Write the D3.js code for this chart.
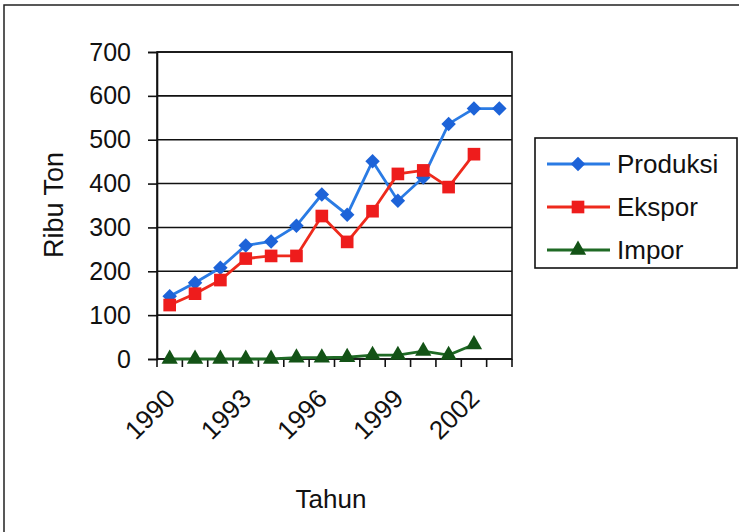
<!DOCTYPE html>
<html>
<head>
<meta charset="utf-8">
<script src="https://cdn.jsdelivr.net/npm/d3@7"></script>
<style>
  body { margin: 0; background: #fff; }
  text { font-family: "Liberation Sans", Arial, sans-serif; fill: #111; }
</style>
</head>
<body>
<div id="viz"></div>
<script>
var tahun = [1990, 1991, 1992, 1993, 1994, 1995, 1996, 1997, 1998, 1999, 2000, 2001, 2002, 2003];
var tahunLabel = [1990, 1993, 1996, 1999, 2002];
var produksi = [143, 174, 208, 259, 268, 304, 375, 329, 451, 361, 414, 536, 571, 571];
var ekspor = [123, 149, 180, 229, 235, 235, 326, 267, 337, 422, 430, 392, 467];
var impor = [0, 0, 0, 0, 0, 3, 3, 4, 9, 9, 18, 9, 33];
var yTicks = [0, 100, 200, 300, 400, 500, 600, 700];

var W = 739, H = 532;
var plot = {left: 157, right: 512, top: 52, bottom: 359};

var svg = d3.select('#viz').append("svg")
    .attr("width", W)
    .attr("height", H);

// outer chart frame
svg.append("rect")
    .attr("x", 4).attr("y", 5)
    .attr("width", W + 10).attr("height", H + 10)
    .attr("fill", "#fff")
    .attr("stroke", "#222")
    .attr("stroke-width", 1.5);

var x = d3.scaleBand()
    .domain(tahun)
    .range([plot.left, plot.right]);

var y = d3.scaleLinear()
    .domain([0, 700])
    .range([plot.bottom, plot.top]);

// gridlines
svg.append("g")
    .selectAll("line")
    .data(yTicks)
    .join("line")
    .attr("x1", plot.left)
    .attr("x2", plot.right)
    .attr("y1", function(d) { return y(d); })
    .attr("y2", function(d) { return y(d); })
    .attr("stroke", "#111")
    .attr("stroke-width", 1.6);

// plot frame
svg.append("rect")
    .attr("x", plot.left).attr("y", plot.top)
    .attr("width", plot.right - plot.left)
    .attr("height", plot.bottom - plot.top)
    .attr("fill", "none")
    .attr("stroke", "#111")
    .attr("stroke-width", 1.6);

// y axis
var yAxis = svg.append("g")
    .attr("transform", "translate(" + plot.left + ",0)")
    .call(d3.axisLeft(y).tickValues(yTicks).tickSize(9).tickPadding(17));
yAxis.select(".domain").attr("stroke", "#111").attr("stroke-width", 1.6);
yAxis.selectAll(".tick line").attr("stroke", "#111").attr("stroke-width", 1.6);
yAxis.selectAll("text").style("font-size", "25px").attr("fill", "#111").attr("font-family", null);

// x axis : ticks between categories
var edges = tahun.map(function(t) { return x(t); }).concat([plot.right]);
svg.append("g")
    .selectAll("line")
    .data(edges)
    .join("line")
    .attr("x1", function(d) { return d; })
    .attr("x2", function(d) { return d; })
    .attr("y1", plot.bottom)
    .attr("y2", plot.bottom + 8)
    .attr("stroke", "#111")
    .attr("stroke-width", 1.6);

svg.append("g")
    .selectAll("text")
    .data(tahunLabel)
    .join("text")
    .attr("transform", function(d) {
        return "translate(" + (x(d) + x.bandwidth() / 2 + 7) + "," + (plot.bottom + 41) + ") rotate(-45)";
    })
    .attr("text-anchor", "end")
    .style("font-size", "26px")
    .text(function(d) { return d; });

// axis titles
svg.append("text")
    .attr("transform", "translate(63,205) rotate(-90)")
    .attr("text-anchor", "middle")
    .style("font-size", "27px")
    .text("Ribu Ton");

svg.append("text")
    .attr("x", 331)
    .attr("y", 508)
    .attr("text-anchor", "middle")
    .style("font-size", "26px")
    .text("Tahun");

var series = [
    {name: "Produksi", values: produksi, line: "#2a7be4", fill: "#1d63d8", shape: d3.symbolSquare, size: 105, rot: 45},
    {name: "Ekspor", values: ekspor, line: "#ee2a1c", fill: "#ee1c1c", shape: d3.symbolSquare, size: 160, rot: 0},
    {name: "Impor", values: impor, line: "#1f6a25", fill: "#135316", shape: d3.symbolTriangle, size: 115, rot: 0}
];

var cx = function(i) { return x(tahun[i]) + x.bandwidth() / 2; };

series.forEach(function(s) {
    var line = d3.line()
        .x(function(d, i) { return cx(i); })
        .y(function(d) { return y(d); });
    svg.append("path")
        .datum(s.values)
        .attr("d", line)
        .attr("fill", "none")
        .attr("stroke", s.line)
        .attr("stroke-width", 2.8);
    svg.append("g")
        .selectAll("path")
        .data(s.values)
        .join("path")
        .attr("transform", function(d, i) { return "translate(" + cx(i) + "," + y(d) + ") rotate(" + s.rot + ")"; })
        .attr("d", d3.symbol().type(s.shape).size(s.size))
        .attr("fill", s.fill);
});

// legend
var legend = svg.append("g");
legend.append("rect")
    .attr("x", 535).attr("y", 138)
    .attr("width", 202).attr("height", 130)
    .attr("fill", "#fff")
    .attr("stroke", "#111")
    .attr("stroke-width", 1.6);

series.forEach(function(s, i) {
    var ly = 164 + i * 43;
    legend.append("line")
        .attr("x1", 547).attr("x2", 610)
        .attr("y1", ly).attr("y2", ly)
        .attr("stroke", s.line)
        .attr("stroke-width", 2.8);
    legend.append("path")
        .attr("transform", "translate(578," + ly + ") rotate(" + s.rot + ")")
        .attr("d", d3.symbol().type(s.shape).size(s.size))
        .attr("fill", s.fill);
    legend.append("text")
        .attr("x", 617)
        .attr("y", ly + 9)
        .style("font-size", "26px")
        .text(s.name);
});
</script>
</body>
</html>
